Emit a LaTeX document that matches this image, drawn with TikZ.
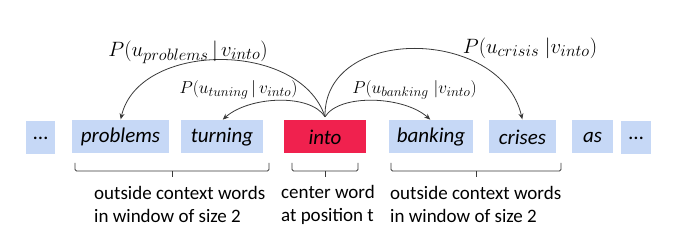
\RequirePackage{fix-cm}
\documentclass[tikz,border=0pt]{standalone}
\usepackage{fontspec}
\setmainfont{Carlito}
\usepackage{tikz}
\usetikzlibrary{arrows.meta, positioning, calc}
\definecolor{WordBlue}{HTML}{C6D8F6}
\definecolor{CenterRed}{HTML}{F0214E}
\definecolor{ArcGray}{HTML}{3A3A3A}
\DeclareMathSizes{20.74}{20.74}{16.5}{12}
\DeclareMathSizes{17.28}{17.28}{13.5}{10}

\begin{document}
\begin{tikzpicture}[x=1pt, y=1pt, >={Stealth[length=6pt, width=5pt]},
  word/.style={fill=WordBlue, minimum height=33pt, inner sep=0pt,
    font=\fontsize{21}{25}\selectfont\itshape},
  ctxarrow/.style={->, ArcGray, line width=0.8pt, shorten >=1pt},
  bigprob/.style={inner sep=0pt, font=\fontsize{20.74}{24}\selectfont},
  smallprob/.style={inner sep=0pt, font=\fontsize{17.28}{20}\selectfont},
  caption/.style={inner sep=0pt, align=left, font=\fontsize{19}{23}\selectfont},
  bracket/.style={ArcGray, line width=0.8pt, rounded corners=1.5pt}]
  \useasboundingbox (0,0) rectangle (680,243);
  % Sentence
  \node[word, minimum width=29pt] (dotsL) at (40.5,105) {\upshape\ldots};
  \node[word, minimum width=97pt] (problems) at (120.5,106) {problems};
  \node[word, minimum width=82pt] (turning) at (222,106) {turning};
  \node[word, minimum width=82pt, fill=CenterRed, text=black] (into) at (325,106) {into};
  \node[word, minimum width=84pt] (banking) at (431,106) {banking};
  \node[word, minimum width=67pt] (crises) at (522.5,106) {crises};
  \node[word, minimum width=41pt] (as) at (592.5,106) {as};
  \node[word, minimum width=30pt] (dotsR) at (636,105) {\upshape\ldots};
  % Context arrows
  \coordinate (src) at ($(into.north)+(0,3.5)$);
  \draw[ctxarrow] (src) .. controls +(108:81pt) and +(77:81pt) .. (problems.north);
  \draw[ctxarrow] (src) .. controls +(122:28pt) and +(42:36pt) .. (turning.north);
  \draw[ctxarrow] (src) .. controls +(58:28pt) and +(138:36pt) .. (banking.north);
  \draw[ctxarrow] (src) .. controls +(91:92pt) and +(103:96pt) .. (crises.north);
  \node[bigprob] (pprob) at (188,191) {$P(u_{problems}\,|\,v_{into})$};
  \node[smallprob] (ptun) at (238.5,153) {$P(u_{tuning}\,|\,v_{into})$};
  \node[smallprob] (pbank) at (414.5,153) {$P(u_{banking}\;|v_{into})$};
  \node[bigprob] (pcris) at (530,195) {$P(u_{crisis}\;|v_{into})$};
  % Braces
  \draw[bracket] (75,80) -- (75,72) -- (269,72) -- (269,80);
  \draw[bracket] (172,72) -- (172,66);
  \draw[bracket] (292,80) -- (292,72) -- (358,72) -- (358,80);
  \draw[bracket] (325,72) -- (325,66);
  \draw[bracket] (391,80) -- (391,72) -- (561,72) -- (561,80);
  \draw[bracket] (476,72) -- (476,66);
  % Captions
  \node[caption, anchor=west] (leftcap) at (94,38.5) {outside context words\\in window of size 2};
  \node[caption, anchor=west] (midcap) at (281,38.5) {center word\\at position t};
  \node[caption, anchor=west] (rightcap) at (390,38.5) {outside context words\\in window of size 2};
\end{tikzpicture}
\end{document}
